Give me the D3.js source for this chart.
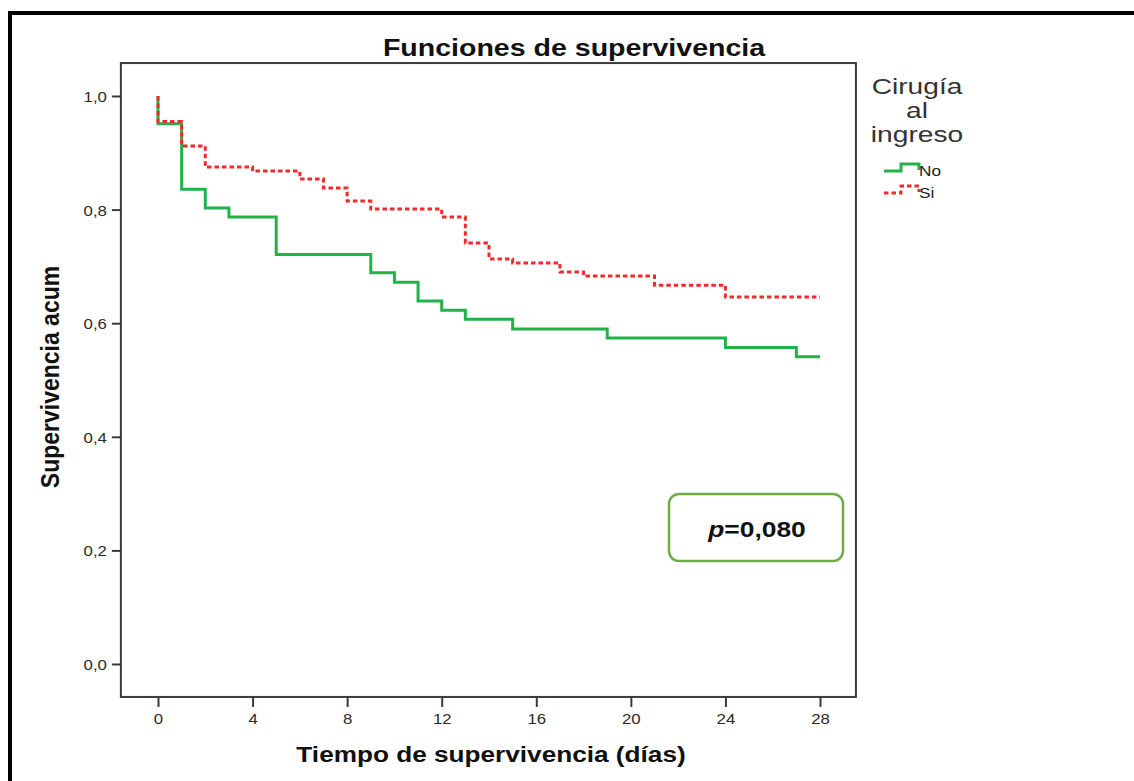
<!DOCTYPE html>
<html>
<head>
<meta charset="utf-8">
<script src="https://cdn.jsdelivr.net/npm/d3@7"></script>
<style>
  html, body { margin: 0; padding: 0; background: #fff; }
  svg { display: block; }
  text { font-family: "Liberation Sans", Arial, sans-serif; }
</style>
</head>
<body>
<svg id="chart" width="1134" height="781"></svg>
<script>
// Kaplan-Meier estimates: day of each step and survival after it
const noTimes  = [0, 0, 1, 2, 3, 5, 9, 10, 11, 12, 13, 15, 19, 24, 27, 28];
const noValues = [1.0, 0.951, 0.836, 0.803, 0.787, 0.721, 0.689, 0.672, 0.639, 0.623, 0.607, 0.590, 0.574, 0.557, 0.541, 0.541];

const siTimes  = [0, 0, 1, 2, 4, 6, 7, 8, 9, 12, 13, 14, 15, 17, 18, 21, 24, 28];
const siValues = [1.0, 0.955, 0.912, 0.875, 0.868, 0.854, 0.838, 0.815, 0.801, 0.787, 0.741, 0.713, 0.706, 0.690, 0.683, 0.667, 0.646, 0.646];

const xTicks = [0, 4, 8, 12, 16, 20, 24, 28];
const yTicks = [0, 0.2, 0.4, 0.6, 0.8, 1.0];

const groups = ["No", "Si"];
const titleText = "Funciones de supervivencia";
const xLabel = "Tiempo de supervivencia (días)";
const yLabel = "Supervivencia acum";
const legendTitle = ["Cirugía", "al", "ingreso"];
const pLabel = ["p", "=0,080"];

// horizontal glyph stretch used for text
const SX = 1.19;
const SX_TICK = 1.12;
const GREEN = "#22b24a";
const RED = "#ee2a2a";
const INK = "#2b2b2b";

const svg = d3.select("#chart");
const fmt = d3.formatLocale({decimal: ",", thousands: ".", grouping: [3], currency: ["", ""]}).format(".1f");

const x = d3.scaleLinear().domain([0, 28]).range([158, 820]);
const y = d3.scaleLinear().domain([0, 1]).range([664, 96]);

// outer page border
svg.append("rect")
  .attr("x", 10).attr("y", 13).attr("width", 1140).attr("height", 790)
  .attr("fill", "none").attr("stroke", "#000").attr("stroke-width", 4);

// plot frame
const fx0 = x(-1.57), fx1 = x(29.52), fy0 = y(1.058), fy1 = y(-0.058);
svg.append("rect")
  .attr("x", fx0).attr("y", fy0).attr("width", fx1 - fx0).attr("height", fy1 - fy0)
  .attr("fill", "none").attr("stroke", "#3a3a3a").attr("stroke-width", 2);

// y axis
const yAxis = svg.append("g")
  .attr("transform", `translate(${fx0},0)`)
  .call(d3.axisLeft(y).tickValues(yTicks).tickFormat(fmt).tickSize(9).tickPadding(5));
yAxis.select(".domain").remove();
yAxis.selectAll(".tick line").attr("stroke", "#3a3a3a").attr("stroke-width", 2);
yAxis.selectAll(".tick text")
  .attr("fill", INK).attr("font-size", 15)
  .attr("x", -14 / SX_TICK).attr("dy", "0.36em")
  .attr("transform", `scale(${SX_TICK},1)`);

// x axis
const xAxis = svg.append("g")
  .attr("transform", `translate(0,${fy1})`)
  .call(d3.axisBottom(x).tickValues(xTicks).tickFormat(d3.format("d")).tickSize(10).tickPadding(6));
xAxis.select(".domain").remove();
xAxis.selectAll(".tick line").attr("stroke", "#3a3a3a").attr("stroke-width", 2);
xAxis.selectAll(".tick text")
  .attr("fill", INK).attr("font-size", 15)
  .attr("transform", `scale(${SX_TICK},1)`);

// survival curves
const step = d3.line()
  .x(d => x(d[0]))
  .y(d => y(d[1]))
  .curve(d3.curveStepAfter);

const noData = d3.zip(noTimes, noValues);
const siData = d3.zip(siTimes, siValues);

svg.append("path")
  .datum(noData)
  .attr("d", step)
  .attr("fill", "none").attr("stroke", GREEN).attr("stroke-width", 3);

svg.append("path")
  .datum(siData)
  .attr("d", step)
  .attr("fill", "none").attr("stroke", RED).attr("stroke-width", 3)
  .attr("stroke-dasharray", "4.5,3");

// title
svg.append("text")
  .attr("transform", `translate(574,56) scale(${SX},1)`)
  .attr("text-anchor", "middle").attr("font-size", 24).attr("font-weight", "bold")
  .attr("fill", "#111").text(titleText);

// axis titles
svg.append("text")
  .attr("transform", `translate(491,762) scale(${SX},1)`)
  .attr("text-anchor", "middle").attr("font-size", 22).attr("font-weight", "bold")
  .attr("fill", "#111").text(xLabel);

svg.append("text")
  .attr("transform", `translate(59,377) rotate(-90) scale(1,1.12)`)
  .attr("text-anchor", "middle").attr("font-size", 23).attr("font-weight", "bold")
  .attr("fill", "#111").text(yLabel);

// legend
const lg = svg.append("g");
legendTitle.forEach((t, i) => {
  lg.append("text")
    .attr("transform", `translate(917,${94 + i * 24}) scale(1.28,1)`)
    .attr("text-anchor", "middle").attr("font-size", 22)
    .attr("fill", "#333").text(t);
});
const legendY = [171, 193];
const legendColor = [GREEN, RED];
groups.forEach((g, i) => {
  const yy = legendY[i];
  const icon = d3.line().curve(d3.curveLinear);
  lg.append("path")
    .attr("d", icon([[884, yy], [901, yy], [901, yy - 7], [919, yy - 7], [919, yy - 1]]))
    .attr("fill", "none").attr("stroke", legendColor[i]).attr("stroke-width", 3)
    .attr("stroke-dasharray", i === 1 ? "4.5,3" : null);
  lg.append("text")
    .attr("transform", `translate(919,${yy + 5}) scale(1.15,1)`)
    .attr("font-size", 15).attr("fill", "#222").text(g);
});

// log-rank p-value box
svg.append("rect")
  .attr("x", 669).attr("y", 494).attr("width", 174).attr("height", 67).attr("rx", 10)
  .attr("fill", "#fff").attr("stroke", "#70ad47").attr("stroke-width", 2.5);
const pt = svg.append("text")
  .attr("transform", `translate(757,537) scale(1.2,1)`)
  .attr("text-anchor", "middle").attr("font-size", 22).attr("font-weight", "bold")
  .attr("font-family", "Lato, 'Open Sans', sans-serif").attr("fill", "#111");
pt.append("tspan").attr("font-style", "italic").text(pLabel[0]);
pt.append("tspan").text(pLabel[1]);
</script>
</body>
</html>
